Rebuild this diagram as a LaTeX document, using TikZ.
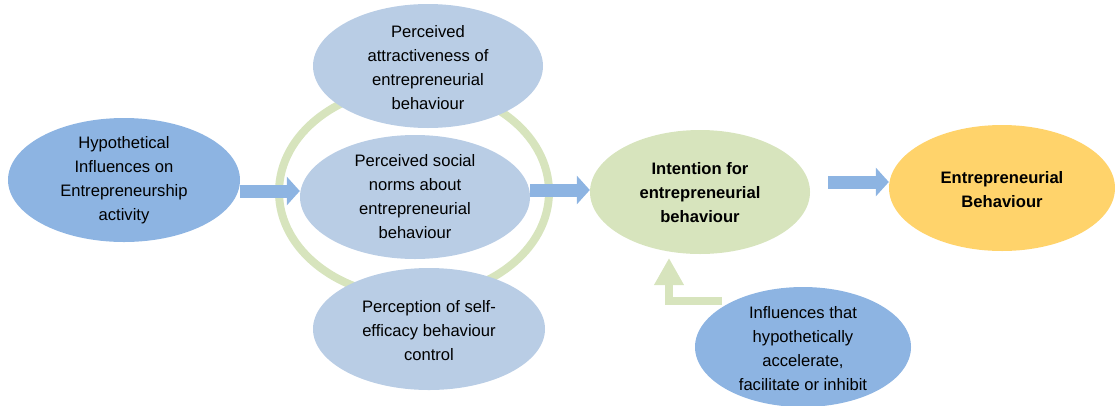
\documentclass[tikz,border=0pt]{standalone}
\usepackage{fontspec}
\setmainfont{Liberation Sans}
\usetikzlibrary{shapes.geometric,arrows.meta}
\definecolor{midblue}{HTML}{8DB4E2}
\definecolor{lightblue}{HTML}{B9CDE5}
\definecolor{lightgreen}{HTML}{D7E4BD}
\definecolor{gold}{HTML}{FFD36B}
\tikzset{
  ell/.style={ellipse, draw=none, inner sep=0pt},
  txt/.style={align=center, font=\fontsize{16.6}{24}\selectfont, inner sep=0pt},
  btxt/.style={align=center, font=\fontsize{16.6}{24}\selectfont\bfseries, inner sep=0pt},
  barrow/.style={draw=midblue, line width=13pt, -{Triangle[length=13pt,width=28pt]}},
  garrow/.style={draw=lightgreen, line width=8pt, -{Triangle[length=27pt,width=28pt]}}
}
\begin{document}
\begin{tikzpicture}[x=1pt,y=-1pt]
\useasboundingbox (0,0) rectangle (1115,405);
% ring
\node[ellipse, draw=lightgreen, line width=8pt, minimum width=270pt, minimum height=210pt, inner sep=0pt] (ring) at (414,192) {};
% ellipses
\node[ell, fill=midblue, minimum width=232pt, minimum height=124pt] (left) at (124,180) {};
\node[txt] (lefttext) at (left) {Hypothetical\\Influences on\\Entrepreneurship\\activity};
\node[ell, fill=lightblue, minimum width=230pt, minimum height=124pt] (top) at (428,66) {};
\node[txt] (toptext) at (428,68) {Perceived\\attractiveness of\\entrepreneurial\\behaviour};
\node[ell, fill=lightblue, minimum width=230pt, minimum height=124pt] (mid) at (415,197) {};
\node[txt] (midtext) at (mid) {Perceived social\\norms about\\entrepreneurial\\behaviour};
\node[ell, fill=lightblue, minimum width=232pt, minimum height=122pt] (bot) at (429,329) {};
\node[txt] (bottext) at (429,331) {Perception of self-\\efficacy behaviour\\control};
\node[ell, fill=lightgreen, minimum width=220pt, minimum height=124pt] (int) at (700,192) {};
\node[btxt] (inttext) at (700,193) {Intention for\\entrepreneurial\\behaviour};
\node[ell, fill=gold, minimum width=226pt, minimum height=126pt] (eb) at (1002,188) {};
\node[btxt] (ebtext) at (1002,190) {Entrepreneurial\\Behaviour};
\node[ell, fill=midblue, minimum width=216pt, minimum height=120pt] (inf) at (803,347) {};
\node[txt] (inftext) at (803,349) {Influences that\\hypothetically\\accelerate,\\facilitate or inhibit};
% arrows
\coordinate (a3s) at (828,182);
\draw[barrow] (left.east |- 0,191) -- (mid.west |- 0,191);
\draw[barrow] (mid.east |- 0,190) -- (int.west |- 0,190);
\draw[barrow] (a3s) -- (eb.west |- a3s);
\coordinate (gs) at (722,301);
\coordinate (gt) at (669,258);
\draw[garrow] (gs) -- (gt |- gs) -- (gt);
\end{tikzpicture}
\end{document}
